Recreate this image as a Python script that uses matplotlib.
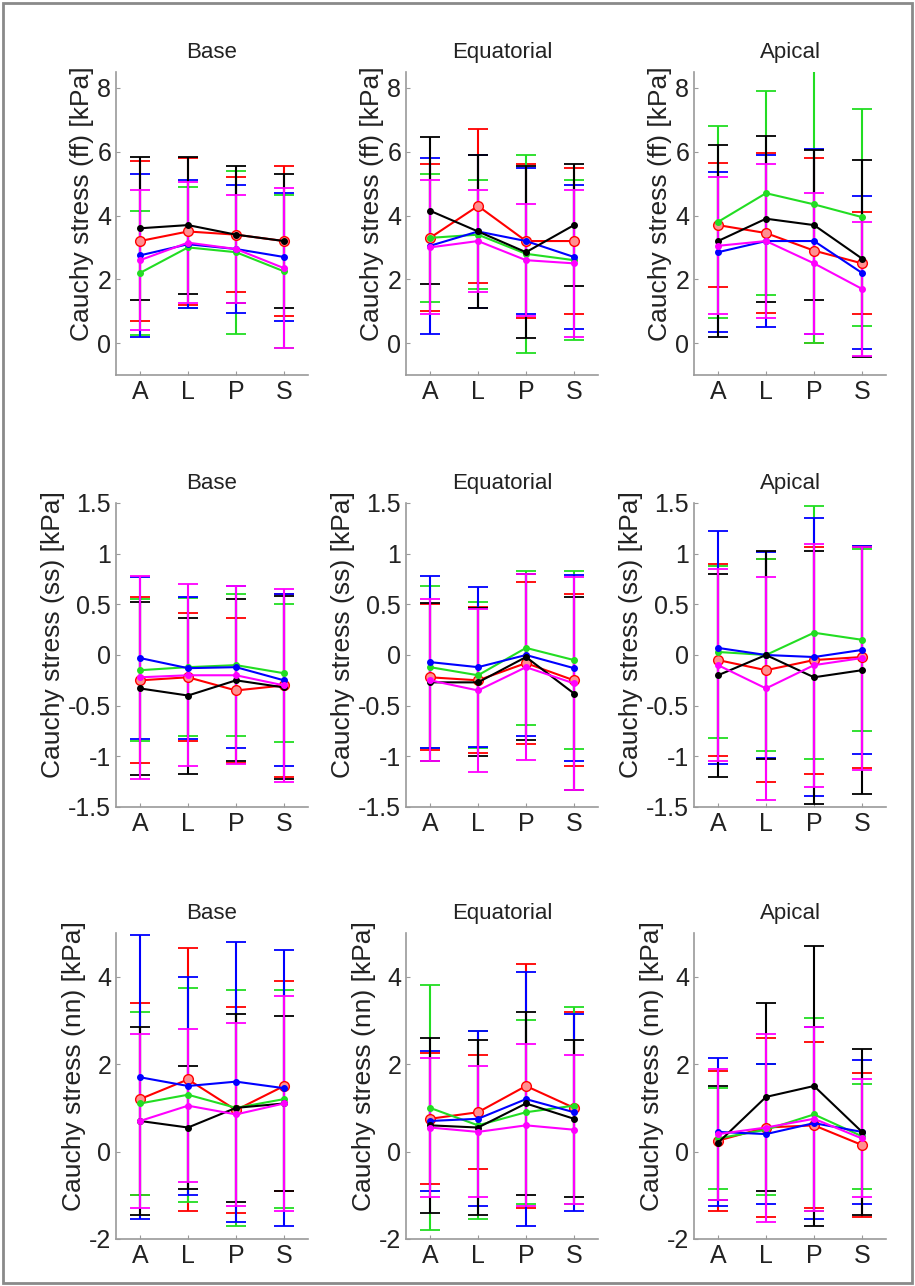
"""Cauchy stress (ff, ss, nn) per region: mean +/- sd for five cases."""

import matplotlib

matplotlib.use("Agg")
import matplotlib.pyplot as plt
from matplotlib.patches import Rectangle

plt.rcParams["font.family"] = ["Liberation Sans", "DejaVu Sans"]

segments = ["A", "L", "P", "S"]
regions = ["Base", "Equatorial", "Apical"]
components = ["ff", "ss", "nn"]
series_colors = ["red", "#22dd22", "blue", "black", "magenta"]

# rows: red, green, blue, black, magenta ; columns: A, L, P, S
ff_base_mean = [[3.2, 3.5, 3.4, 3.2], [2.2, 3.0, 2.85, 2.25], [2.75, 3.1, 2.95, 2.7],
                [3.6, 3.7, 3.4, 3.2], [2.6, 3.15, 2.95, 2.35]]
ff_base_sd = [[2.5, 2.3, 1.8, 2.35], [1.95, 1.9, 2.55, 2.4], [2.55, 2.0, 2.0, 2.0],
              [2.25, 2.15, 2.15, 2.1], [2.2, 1.9, 1.7, 2.5]]
ff_equa_mean = [[3.3, 4.3, 3.2, 3.2], [3.3, 3.4, 2.8, 2.6], [3.05, 3.5, 3.2, 2.7],
                [4.15, 3.5, 2.85, 3.7], [3.0, 3.2, 2.6, 2.5]]
ff_equa_sd = [[2.3, 2.4, 2.4, 2.3], [2.0, 1.7, 3.1, 2.5], [2.75, 2.4, 2.3, 2.25],
              [2.3, 2.4, 2.7, 1.9], [2.1, 1.6, 1.75, 2.3]]
ff_apic_mean = [[3.7, 3.45, 2.9, 2.5], [3.8, 4.7, 4.35, 3.95], [2.85, 3.2, 3.2, 2.2],
                [3.2, 3.9, 3.7, 2.65], [3.05, 3.2, 2.5, 1.7]]
ff_apic_sd = [[1.95, 2.5, 2.9, 1.6], [3.0, 3.2, 4.35, 3.4], [2.5, 2.7, 2.9, 2.4],
              [3.0, 2.6, 2.35, 3.1], [2.15, 2.4, 2.2, 2.1]]

ss_base_mean = [[-0.25, -0.22, -0.35, -0.3], [-0.15, -0.12, -0.1, -0.18],
                [-0.03, -0.13, -0.12, -0.25], [-0.33, -0.4, -0.25, -0.32],
                [-0.22, -0.2, -0.2, -0.3]]
ss_base_sd = [[0.82, 0.63, 0.72, 0.9], [0.7, 0.68, 0.7, 0.68], [0.8, 0.7, 0.8, 0.85],
              [0.85, 0.77, 0.8, 0.9], [1.0, 0.9, 0.88, 0.95]]
ss_equa_mean = [[-0.22, -0.25, -0.08, -0.25], [-0.12, -0.2, 0.07, -0.05],
                [-0.07, -0.12, 0.0, -0.13], [-0.27, -0.27, -0.02, -0.38],
                [-0.25, -0.35, -0.12, -0.28]]
ss_equa_sd = [[0.72, 0.72, 0.8, 0.85], [0.8, 0.72, 0.76, 0.88], [0.85, 0.79, 0.8, 0.92],
              [0.78, 0.73, 0.82, 0.95], [0.8, 0.8, 0.92, 1.05]]
ss_apic_mean = [[-0.05, -0.15, -0.05, -0.02], [0.03, 0.0, 0.22, 0.15],
                [0.07, 0.0, -0.02, 0.05], [-0.2, 0.0, -0.22, -0.15],
                [-0.1, -0.33, -0.1, -0.03]]
ss_apic_sd = [[0.95, 1.1, 1.12, 1.1], [0.85, 0.95, 1.25, 0.9], [1.15, 1.02, 1.37, 1.03],
              [1.0, 1.03, 1.25, 1.22], [0.95, 1.1, 1.2, 1.1]]

nn_base_mean = [[1.2, 1.65, 0.95, 1.5], [1.1, 1.3, 1.0, 1.2], [1.7, 1.5, 1.6, 1.45],
                [0.7, 0.55, 1.0, 1.1], [0.7, 1.05, 0.85, 1.1]]
nn_base_sd = [[2.2, 3.0, 2.35, 2.4], [2.1, 2.45, 2.7, 2.5], [3.25, 2.5, 3.2, 3.15],
              [2.15, 1.4, 2.15, 2.0], [2.0, 1.75, 2.1, 2.45]]
nn_equa_mean = [[0.75, 0.9, 1.5, 1.0], [1.0, 0.6, 0.9, 1.05], [0.7, 0.75, 1.2, 0.9],
                [0.6, 0.55, 1.1, 0.75], [0.55, 0.45, 0.6, 0.5]]
nn_equa_sd = [[1.5, 1.3, 2.8, 2.2], [2.8, 2.15, 2.1, 2.25], [1.6, 2.0, 2.9, 2.25],
              [2.0, 2.0, 2.1, 1.8], [1.6, 1.5, 1.85, 1.7]]
nn_apic_mean = [[0.25, 0.55, 0.6, 0.15], [0.3, 0.5, 0.85, 0.35], [0.45, 0.4, 0.65, 0.45],
                [0.2, 1.25, 1.5, 0.45], [0.4, 0.55, 0.75, 0.3]]
nn_apic_sd = [[1.6, 2.05, 1.9, 1.65], [1.15, 1.5, 2.2, 1.2], [1.7, 1.6, 2.2, 1.65],
              [1.3, 2.15, 3.2, 1.9], [1.5, 2.15, 2.1, 1.35]]

panels = [
    [(ff_base_mean, ff_base_sd), (ff_equa_mean, ff_equa_sd), (ff_apic_mean, ff_apic_sd)],
    [(ss_base_mean, ss_base_sd), (ss_equa_mean, ss_equa_sd), (ss_apic_mean, ss_apic_sd)],
    [(nn_base_mean, nn_base_sd), (nn_equa_mean, nn_equa_sd), (nn_apic_mean, nn_apic_sd)],
]
row_ylims = [(-1, 8.5), (-1.5, 1.5), (-2, 5)]
row_yticks = [[0, 2, 4, 6, 8], [-1.5, -1, -0.5, 0, 0.5, 1, 1.5], [-2, 0, 2, 4]]

W, H = 915, 1286
col_left = [116, 406, 694]
col_width = 192
row_top_bottom = [(72, 375), (503, 807), (933, 1239)]

fig = plt.figure(figsize=(W / 100, H / 100), dpi=100)
fig.patches.append(Rectangle((0.003, 0.002), 0.994, 0.996, transform=fig.transFigure,
                             fill=False, edgecolor="#8a8a8a", linewidth=2))

x = list(range(1, len(segments) + 1))
axis_gray = "#9a9a9a"
for r, comp in enumerate(components):
    top, bottom = row_top_bottom[r]
    for c, region in enumerate(regions):
        ax = fig.add_axes([col_left[c] / W, 1 - bottom / H, col_width / W, (bottom - top) / H])
        means, sds = panels[r][c]
        for color, m, s in zip(series_colors, means, sds):
            if color == "red":
                ax.errorbar(x, m, yerr=s, color=color, lw=1.5, elinewidth=1.5,
                            capsize=7, capthick=1.3, marker="o", ms=7, mfc="#ff9090")
            else:
                ax.errorbar(x, m, yerr=s, color=color, lw=1.5, elinewidth=1.5,
                            capsize=7, capthick=1.3, marker="o", ms=4)
        ax.set_xlim(0.5, 4.5)
        ax.set_ylim(*row_ylims[r])
        ax.set_xticks(x, segments)
        ax.set_yticks(row_yticks[r], ["%g" % t for t in row_yticks[r]])
        ax.set_title(region, fontsize=16, pad=10, color="#222222")
        # the label sits a little above the axes centre in the original
        ax.set_ylabel(f"Cauchy stress ({comp}) [kPa]", fontsize=19, color="#222222",
                      labelpad=2, y=0.5 + 20 / (bottom - top))
        for side in ["top", "right"]:
            ax.spines[side].set_visible(False)
        for side in ["left", "bottom"]:
            ax.spines[side].set_color(axis_gray)
            ax.spines[side].set_linewidth(1.2)
        ax.tick_params(direction="in", length=3, color=axis_gray,
                       labelsize=18, labelcolor="#222222")

fig.savefig("out.png", dpi=100)
